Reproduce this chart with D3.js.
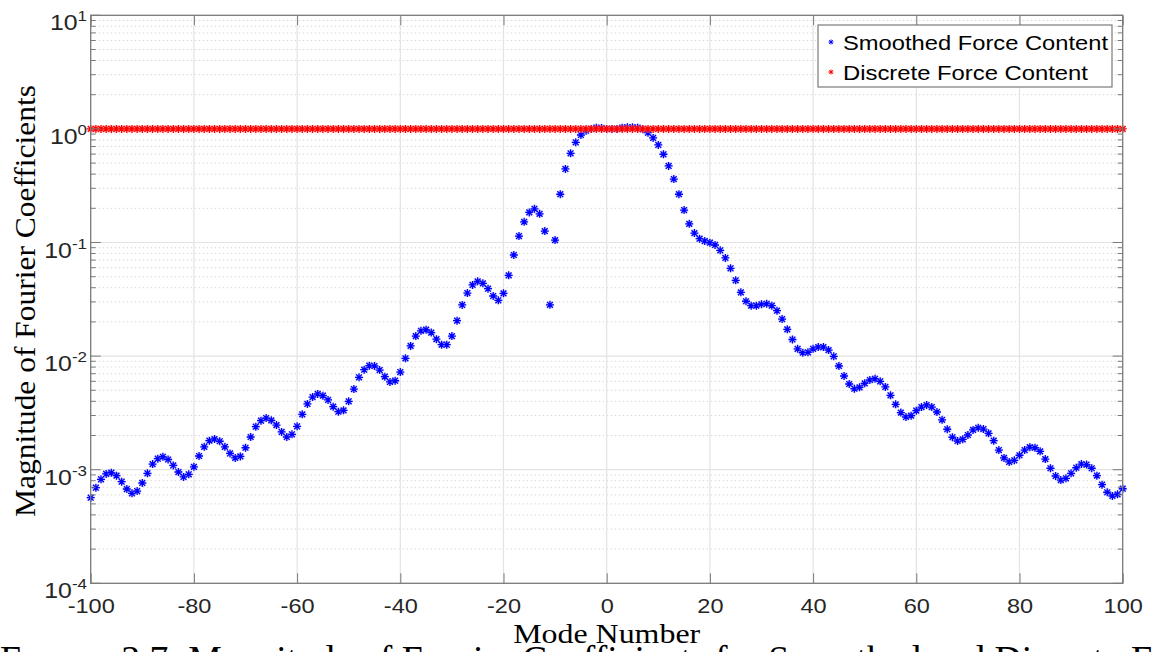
<!DOCTYPE html>
<html>
<head>
<meta charset="utf-8">
<script src="https://cdn.jsdelivr.net/npm/d3@7"></script>
<style>
  body { margin: 0; background: #fff; }
  svg { display: block; }
  .tick text { font-family: "Liberation Sans", Arial, sans-serif; }
</style>
</head>
<body>
<svg id="chart" width="1155" height="652"></svg>
<script>
// mode numbers -100 .. 100
var modes = d3.range(-100, 101);

// |c_k| of the smoothed force, modes -100..100
var smoothedValues = [
  5.67e-4, 6.94e-4, 8.23e-4, 9.17e-4, 9.41e-4, 8.86e-4, 7.84e-4, 6.76e-4, 6.20e-4, 6.49e-4,
  7.64e-4, 9.30e-4, 1.12e-3, 1.25e-3, 1.30e-3, 1.23e-3, 1.09e-3, 9.54e-4, 8.63e-4, 9.11e-4,
  1.06e-3, 1.32e-3, 1.59e-3, 1.80e-3, 1.86e-3, 1.78e-3, 1.59e-3, 1.39e-3, 1.27e-3, 1.31e-3,
  1.56e-3, 1.94e-3, 2.39e-3, 2.70e-3, 2.85e-3, 2.72e-3, 2.47e-3, 2.15e-3, 1.94e-3, 2.05e-3,
  2.41e-3, 3.07e-3, 3.79e-3, 4.36e-3, 4.64e-3, 4.48e-3, 4.11e-3, 3.59e-3, 3.24e-3, 3.33e-3,
  4.00e-3, 5.13e-3, 6.51e-3, 7.59e-3, 8.23e-3, 8.18e-3, 7.54e-3, 6.59e-3, 5.92e-3, 6.07e-3,
  7.24e-3, 9.56e-3, 1.23e-2, 1.50e-2, 1.67e-2, 1.71e-2, 1.61e-2, 1.41e-2, 1.26e-2, 1.26e-2,
  1.50e-2, 2.05e-2, 2.82e-2, 3.59e-2, 4.23e-2, 4.55e-2, 4.37e-2, 3.92e-2, 3.38e-2, 3.10e-2,
  3.57e-2, 5.14e-2, 7.76e-2, 0.114, 0.152, 0.184, 0.198, 0.179, 0.126, 0.0283,
  0.105, 0.266, 0.444, 0.610, 0.762, 0.884, 0.964, 1.00, 1.025, 1.018,
  1.00,                                                   // mode 0
  1.00, 1.00, 1.025, 1.033, 1.033, 1.025, 0.992, 0.926, 0.832, 0.722,
  0.598, 0.472, 0.362, 0.266, 0.193, 0.146, 0.121, 0.108, 0.103, 0.0996,
  0.0951, 0.0854, 0.0731, 0.0593, 0.0465, 0.0364, 0.0304, 0.0278, 0.0278, 0.0286,
  0.0289, 0.0278, 0.0251, 0.0212, 0.0172, 0.0140, 0.0116, 0.0107, 0.0108, 0.0116,
  0.0120, 0.0120, 0.0113, 0.00996, 0.00818, 0.00668, 0.00568, 0.00516, 0.00531, 0.00576,
  0.00616, 0.00632, 0.00600, 0.00535, 0.00452, 0.00376, 0.00318, 0.00291, 0.00299, 0.00331,
  0.00356, 0.00371, 0.00356, 0.00322, 0.00275, 0.00227, 0.00193, 0.00179, 0.00185, 0.00202,
  0.00224, 0.00234, 0.00228, 0.00209, 0.00180, 0.00149, 0.00127, 0.00117, 0.00121, 0.00134,
  0.00149, 0.00158, 0.00156, 0.00145, 0.00124, 0.00103, 0.00088, 0.00081, 0.00084, 0.00093,
  0.00104, 0.00112, 0.00111, 0.00103, 8.86e-4, 7.38e-4, 6.33e-4, 5.87e-4, 6.07e-4, 6.80e-4
];

// discrete force content is flat at 1 for every mode
var discreteValues = [
  1,1,1,1,1,1,1,1,1,1,1,1,1,1,1,1,1,1,1,1,
  1,1,1,1,1,1,1,1,1,1,1,1,1,1,1,1,1,1,1,1,
  1,1,1,1,1,1,1,1,1,1,1,1,1,1,1,1,1,1,1,1,
  1,1,1,1,1,1,1,1,1,1,1,1,1,1,1,1,1,1,1,1,
  1,1,1,1,1,1,1,1,1,1,1,1,1,1,1,1,1,1,1,1,
  1,1,1,1,1,1,1,1,1,1,1,1,1,1,1,1,1,1,1,1,
  1,1,1,1,1,1,1,1,1,1,1,1,1,1,1,1,1,1,1,1,
  1,1,1,1,1,1,1,1,1,1,1,1,1,1,1,1,1,1,1,1,
  1,1,1,1,1,1,1,1,1,1,1,1,1,1,1,1,1,1,1,1,
  1,1,1,1,1,1,1,1,1,1,1,1,1,1,1,1,1,1,1,1,
  1
];

var xTicks = [-100, -80, -60, -40, -20, 0, 20, 40, 60, 80, 100];
var yDecades = [1e-4, 1e-3, 1e-2, 1e-1, 1e0, 1e1];
var yExponents = ["-4", "-3", "-2", "-1", "0", "1"];
var seriesNames = ["Smoothed Force Content", "Discrete Force Content"];
var seriesColors = ["#0000ff", "#ff0000"];

var svg = d3.select('#chart');
// plot box (note: "top" is taken by window.top, so prefix these)
var pLeft = 90.7, pRight = 1122.7, pTop = 15.3, pBottom = 583.3;
var axisCol = '#7a7a7a';
var sansFont = '"Liberation Sans", Arial, sans-serif';
var serifFont = '"Liberation Serif", "DejaVu Serif", serif';

// the helvetica in the original comes out a bit wider than arial
function widen(sel, f) {
  sel.each(function() {
    var w = this.getComputedTextLength();
    d3.select(this).attr('textLength', w * f).attr('lengthAdjust', 'spacingAndGlyphs');
  });
}

var x = d3.scaleLinear().domain([-100, 100]).range([pLeft, pRight]);
var y = d3.scaleLog().domain([1e-4, 1e1]).range([pBottom, pTop]);

// minor values 2..9 in each decade
var minorVals = [];
yDecades.slice(0, -1).forEach(function(d) {
  for (var k = 2; k <= 9; k++) minorVals.push(d * k);
});

// grid
var grid = svg.append('g');
grid.selectAll(null).data(minorVals).enter().append('line')
  .attr('x1', pLeft).attr('x2', pRight)
  .attr('y1', function(d) { return y(d); }).attr('y2', function(d) { return y(d); })
  .attr('stroke', '#d9d9d9').attr('stroke-width', 1).attr('stroke-dasharray', '1.5,2.5');
grid.selectAll(null).data(yDecades.slice(1, -1)).enter().append('line')
  .attr('x1', pLeft).attr('x2', pRight)
  .attr('y1', function(d) { return y(d); }).attr('y2', function(d) { return y(d); })
  .attr('stroke', '#e3e3e3').attr('stroke-width', 1.2);
grid.selectAll(null).data(xTicks.slice(1, -1)).enter().append('line')
  .attr('y1', pTop).attr('y2', pBottom)
  .attr('x1', function(d) { return x(d); }).attr('x2', function(d) { return x(d); })
  .attr('stroke', '#e3e3e3').attr('stroke-width', 1.2);

// markers: '*' like matlab
var star = 'M-4,0H4M0,-4V4M-2.9,-2.9L2.9,2.9M-2.9,2.9L2.9,-2.9';

function drawSeries(vals, color, halo) {
  var g = svg.append('g');
  var pts = g.selectAll('g').data(vals).enter().append('g')
    .attr('transform', function(d, i) { return 'translate(' + x(modes[i]) + ',' + y(d) + ')'; });
  pts.append('circle').attr('r', 3.9).attr('fill', halo).attr('opacity', 0.45);
  pts.append('path').attr('d', star).attr('stroke', color).attr('stroke-width', 1.3).attr('fill', 'none');
}
drawSeries(smoothedValues, seriesColors[0], '#aaaaff');
drawSeries(discreteValues, seriesColors[1], '#ffaaaa');

// axes box
svg.append('rect').attr('x', pLeft).attr('y', pTop)
  .attr('width', pRight - pLeft).attr('height', pBottom - pTop)
  .attr('fill', 'none').attr('stroke', axisCol).attr('stroke-width', 1.3);

// ticks (inward) on all four sides
var xBottom = svg.append('g').attr('transform', 'translate(0,' + pBottom + ')')
  .call(d3.axisBottom(x).tickValues(xTicks).tickSize(-10).tickPadding(15)
    .tickFormat(function(d) { return String(d); }));
var xTop = svg.append('g').attr('transform', 'translate(0,' + pTop + ')')
  .call(d3.axisTop(x).tickValues(xTicks).tickSize(-10).tickFormat(''));
[xBottom, xTop].forEach(function(a) {
  a.select('.domain').remove();
  a.selectAll('line').attr('stroke', axisCol);
});
xBottom.selectAll('text').attr('font-size', 21).attr('fill', '#262626');
widen(xBottom.selectAll('text'), 1.12);

var yl = svg.append('g');
[pLeft, pRight].forEach(function(xx) {
  var dir = xx === pLeft ? 1 : -1;
  yl.selectAll(null).data(yDecades).enter().append('line')
    .attr('x1', xx).attr('x2', xx + dir * 10)
    .attr('y1', function(d) { return y(d); }).attr('y2', function(d) { return y(d); })
    .attr('stroke', axisCol);
  yl.selectAll(null).data(minorVals).enter().append('line')
    .attr('x1', xx).attr('x2', xx + dir * 5)
    .attr('y1', function(d) { return y(d); }).attr('y2', function(d) { return y(d); })
    .attr('stroke', axisCol);
});

// 10^n labels
var ylab = svg.append('g').attr('font-family', sansFont).attr('fill', '#262626');
yDecades.forEach(function(d, i) {
  var t = ylab.append('text').attr('x', 87).attr('y', y(d) + 15).attr('text-anchor', 'end').attr('font-size', 22);
  t.append('tspan').text('10');
  t.append('tspan').attr('dy', -9).attr('font-size', 15).text(yExponents[i]);
});
widen(ylab.selectAll('text'), 1.13);

// axis titles (LaTeX style serif)
svg.append('text').attr('x', 606.7).attr('y', 643).attr('text-anchor', 'middle')
  .attr('font-family', serifFont).attr('font-size', 28)
  .attr('textLength', 187).attr('lengthAdjust', 'spacingAndGlyphs')
  .text('Mode Number');
svg.append('text').attr('transform', 'translate(35,301) rotate(-90)').attr('text-anchor', 'middle')
  .attr('font-family', serifFont).attr('font-size', 29)
  .attr('textLength', 432).attr('lengthAdjust', 'spacingAndGlyphs')
  .text('Magnitude of Fourier Coefficients');

// caption, cut by the bottom of the image
var cap = svg.append('text').attr('x', 0).attr('y', 672)
  .attr('font-family', serifFont).attr('font-size', 38)
  .attr('textLength', 1120).attr('lengthAdjust', 'spacingAndGlyphs');
cap.append('tspan').text('F');
cap.append('tspan').attr('font-size', 30).text('IGURE');
cap.append('tspan').text(' 3.7: Magnitude of Fourier Coefficients for Smoothed and Discrete');
svg.append('text').attr('x', 1131).attr('y', 672)
  .attr('font-family', serifFont).attr('font-size', 38)
  .text('Force Content');

// legend
var leg = svg.append('g');
leg.append('rect').attr('x', 818).attr('y', 25).attr('width', 294).attr('height', 62)
  .attr('fill', '#fff').attr('stroke', axisCol).attr('stroke-width', 1.2);
var legWidths = [265, 245];
seriesNames.forEach(function(name, i) {
  var yy = 42 + i * 30;
  leg.append('path').attr('d', 'M-2.5,0H2.5M0,-2.5V2.5M-1.8,-1.8L1.8,1.8M-1.8,1.8L1.8,-1.8')
    .attr('transform', 'translate(831,' + yy + ')')
    .attr('stroke', seriesColors[i]).attr('stroke-width', 1);
  leg.append('text').attr('x', 843).attr('y', yy + 7.5)
    .attr('font-family', sansFont).attr('font-size', 21).attr('fill', '#000')
    .attr('textLength', legWidths[i]).attr('lengthAdjust', 'spacingAndGlyphs')
    .text(name);
});
</script>
</body>
</html>
